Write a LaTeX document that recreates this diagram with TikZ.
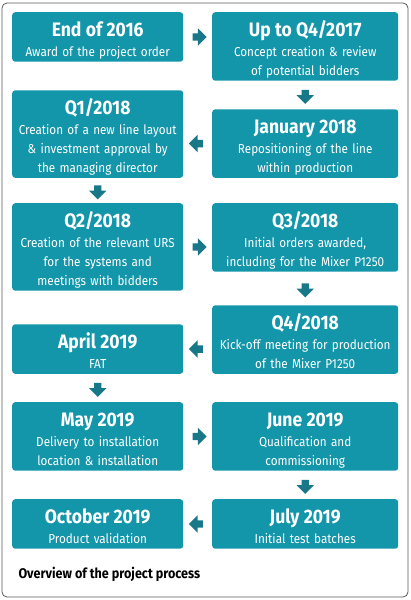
\documentclass[tikz,border=0pt]{standalone}
\usepackage{fontspec}
\setmainfont{Fira Sans}[FakeStretch=0.9]
\usepackage{tikz}
\usetikzlibrary{shapes.arrows, calc}
\definecolor{stagecol}{RGB}{20,150,170}
\definecolor{arrowcol}{RGB}{24,120,138}
\newcommand{\stagetext}[2]{{\fontsize{19.5}{21}\selectfont\bfseries\rule{0pt}{22pt}#1}\\[1pt]#2\rule[-3.5pt]{0pt}{0pt}}

\begin{document}
\begin{tikzpicture}[x=1pt, y=-1pt,
	stage/.style={fill=stagecol, text=white, rounded corners=3pt, align=center, inner xsep=3pt, inner ysep=2pt, font=\fontsize{13}{19}\selectfont},
	leftstage/.style={stage, text width=165pt},
	rightstage/.style={stage, text width=180pt},
	arrowbox/.style={single arrow, fill=arrowcol, minimum height=14pt, inner sep=3.5pt, single arrow head extend=5pt, single arrow head indent=0pt}]
				\useasboundingbox (0,0) rectangle (411,600);
				\draw[rounded corners=5pt, draw=black!65, line width=0.8pt] (2,3) rectangle (408,597);
				
				\node[leftstage, anchor=north west] (b1) at (12,12) {\stagetext{End of 2016}{Award of the project order}};
				\node[rightstage, anchor=north west] (b2) at (212,12) {\stagetext{Up to Q4/2017}{Concept creation \& review\\of potential bidders}};
				\node[leftstage, anchor=south west] (b3) at (12,178) {\stagetext{Q1/2018}{Creation of a new line layout\\\& investment approval by\\the managing director}};
				\node[rightstage, anchor=south west] (b4) at (212,178) {\stagetext{January 2018}{Repositioning of the line\\within production}};
				\node[leftstage, anchor=north west] (b5) at (12,203) {\stagetext{Q2/2018}{Creation of the relevant URS\\for the systems and\\meetings with bidders}};
				\node[rightstage, anchor=north west] (b6) at (212,203) {\stagetext{Q3/2018}{Initial orders awarded,\\including for the Mixer P1250}};
				\node[leftstage, anchor=south west] (b7) at (12,374) {\stagetext{April 2019}{FAT}};
				\node[rightstage, anchor=south west] (b8) at (212,374) {\stagetext{Q4/2018}{Kick-off meeting for production\\of the Mixer P1250}};
				\node[leftstage, anchor=north west] (b9) at (12,402) {\stagetext{May 2019}{Delivery to installation\\location \& installation}};
				\node[rightstage, anchor=north west] (b10) at (212,402) {\stagetext{June 2019}{Qualification and\\commissioning}};
				\node[leftstage, anchor=north west] (b11) at (12,499) {\stagetext{October 2019}{Product validation}};
				\node[rightstage, anchor=north west] (b12) at (212,499) {\stagetext{July 2019}{Initial test batches}};
				
				\node[arrowbox] (a1) at ($(b1.east)!0.5!(b1.east -| b2.west)$) {};
				\node[arrowbox, shape border rotate=270] (a2) at ($(b2.south)!0.5!(b4.north)$) {};
				\node[arrowbox, shape border rotate=180] (a3) at ($(b4.west)!0.5!(b4.west -| b3.east)$) {};
				\node[arrowbox, shape border rotate=270] (a4) at ($(b3.south)!0.5!(b5.north)$) {};
				\node[arrowbox] (a5) at ($(b5.east)!0.5!(b5.east -| b6.west)$) {};
				\node[arrowbox, shape border rotate=270] (a6) at ($(b6.south)!0.5!(b8.north)$) {};
				\node[arrowbox, shape border rotate=180] (a7) at ($(b7.east)!0.5!(b7.east -| b8.west)$) {};
				\node[arrowbox, shape border rotate=270] (a8) at ($(b7.south)!0.5!(b9.north)$) {};
				\node[arrowbox] (a9) at ($(b9.east)!0.5!(b9.east -| b10.west)$) {};
				\node[arrowbox, shape border rotate=270] (a10) at ($(b10.south)!0.5!(b12.north)$) {};
				\node[arrowbox, shape border rotate=180] (a11) at ($(b12.west)!0.5!(b12.west -| b11.east)$) {};
				
				\node[anchor=base west, font=\fontsize{14}{16}\selectfont\bfseries] (caption) at (15,578) {Overview of the project process};
				\end{tikzpicture}
\end{document}
